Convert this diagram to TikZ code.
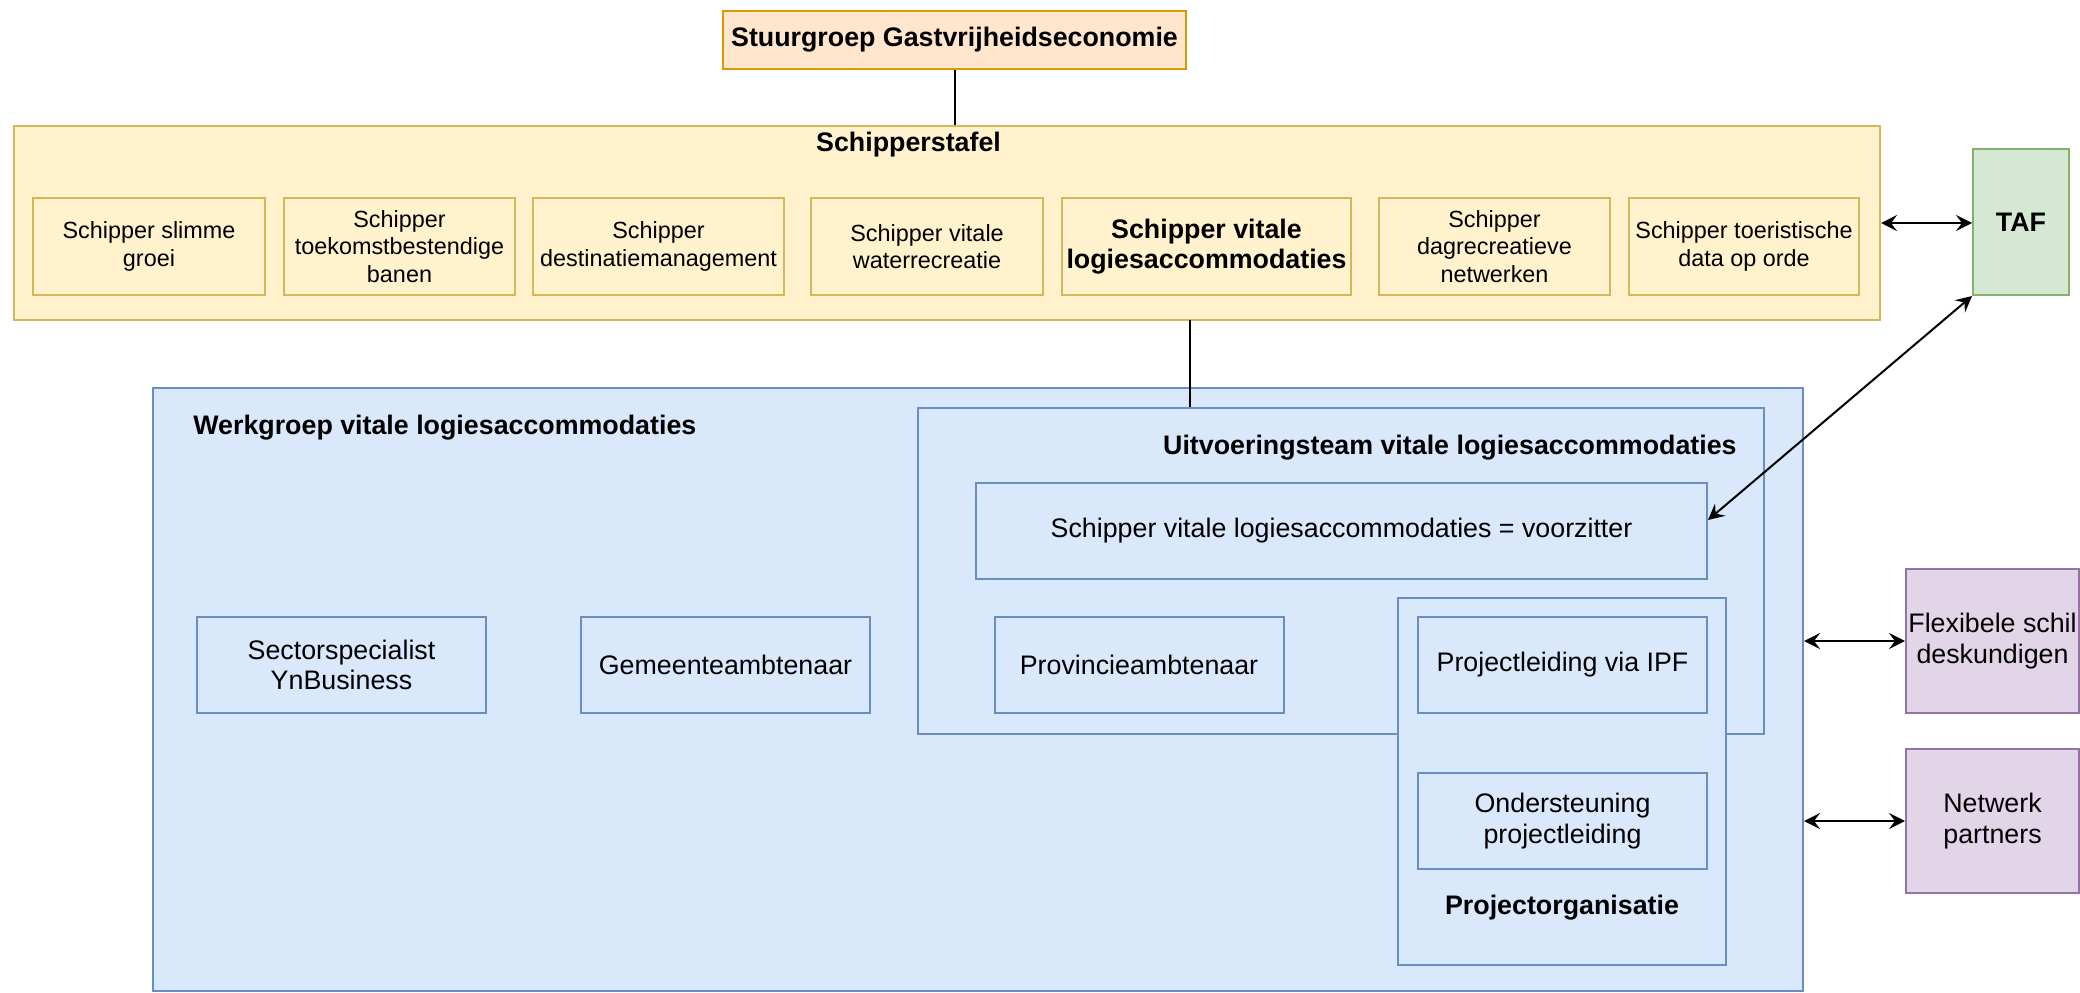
\documentclass[tikz,border=0pt]{standalone}
\usepackage{fontspec}
\setmainfont{Liberation Sans}
\usepackage{xcolor}
\usetikzlibrary{arrows.meta,positioning,calc}
\definecolor{orangefill}{HTML}{FFE6CC}
\definecolor{orangeline}{HTML}{D79B00}
\definecolor{yellowfill}{HTML}{FFF2CC}
\definecolor{yellowline}{HTML}{D6B656}
\definecolor{greenfill}{HTML}{D5E8D4}
\definecolor{greenline}{HTML}{82B366}
\definecolor{bluefill}{HTML}{DAE8FC}
\definecolor{blueline}{HTML}{6C8EBF}
\definecolor{purplefill}{HTML}{E1D5E7}
\definecolor{purpleline}{HTML}{9673A6}
\newcommand{\normtxt}{\fontsize{13.4}{15.2}\selectfont}
\newcommand{\smalltxt}{\fontsize{11.7}{13.8}\selectfont}

\begin{document}
\begin{tikzpicture}[x=0.5pt, y=-0.5pt,
    box/.style={draw, line width=1pt, align=center, inner sep=0pt, font=\normtxt},
    orangebox/.style={box, fill=orangefill, draw=orangeline},
    yellowbox/.style={box, fill=yellowfill, draw=yellowline, minimum height=48.5pt, font=\smalltxt},
    greenbox/.style={box, fill=greenfill, draw=greenline},
    bluebox/.style={box, fill=bluefill, draw=blueline},
    memberbox/.style={bluebox, minimum width=144.5pt, minimum height=48pt},
    purplebox/.style={box, fill=purplefill, draw=purpleline, minimum width=86.5pt, minimum height=72pt},
    grouplbl/.style={font=\normtxt\bfseries, inner sep=0pt},
    biarr/.style={{Stealth[length=8pt,width=8pt,inset=3pt]}-{Stealth[length=8pt,width=8pt,inset=3pt]}, line width=1pt}
  ]
    \useasboundingbox (0,0) rectangle (2080,992);

    \node[orangebox, minimum width=231.5pt, minimum height=29pt, font=\normtxt\bfseries] (stuur) at (954.5,40) {Stuurgroep Gastvrijheidseconomie};

    \node[yellowbox, minimum width=933pt, minimum height=97pt] (tafel) at (947,223) {};
    \node[grouplbl] (tafellbl) at (908.5,145) {Schipperstafel};
    \node[yellowbox, minimum width=116pt]   (s1) at (149,246.5)    {Schipper slimme\\groei};
    \node[yellowbox, minimum width=115.5pt] (s2) at (399.5,246.5)  {Schipper\\toekomstbestendige\\banen};
    \node[yellowbox, minimum width=125.5pt] (s3) at (658.5,246.5)  {Schipper\\destinatiemanagement};
    \node[yellowbox, minimum width=116pt]   (s4) at (927,246.5)    {Schipper vitale\\waterrecreatie};
    \node[yellowbox, minimum width=144.5pt, font=\normtxt\bfseries] (s5) at (1206.5,246.5) {Schipper vitale\\logiesaccommodaties};
    \node[yellowbox, minimum width=115.5pt] (s6) at (1494.5,246.5) {Schipper\\dagrecreatieve\\netwerken};
    \node[yellowbox, minimum width=115pt]   (s7) at (1744,246.5)   {Schipper toeristische\\data op orde};

    \node[greenbox, minimum width=48pt, minimum height=73pt, font=\normtxt\bfseries] (taf) at (2021,222) {TAF};

    \node[bluebox, minimum width=825pt, minimum height=301.5pt] (werk) at (978,689.5) {};
    \node[grouplbl, anchor=west] (werklbl) at (193,428) {Werkgroep vitale logiesaccommodaties};
    \node[bluebox, minimum width=423pt, minimum height=163pt] (uitv) at (1341,571) {};
    \node[grouplbl, anchor=east] (uitvlbl) at (1737,448) {Uitvoeringsteam vitale logiesaccommodaties};
    \node[bluebox, minimum width=365.5pt, minimum height=48pt] (voorz) at (1341.5,531) {Schipper vitale logiesaccommodaties = voorzitter};
    \node[memberbox] (sector) at (341.5,665) {Sectorspecialist\\YnBusiness};
    \node[memberbox] (gemeente) at (725.5,665) {Gemeenteambtenaar};
    \node[memberbox] (prov) at (1139,665) {Provincieambtenaar};
    \node[bluebox, minimum width=164pt, minimum height=183.5pt] (projorg) at (1562,781.5) {};
    \node[memberbox] (ipf) at (1562.5,665) {Projectleiding via IPF};
    \node[memberbox] (onder) at (1562.5,821) {Ondersteuning\\projectleiding};
    \node[grouplbl] (projlbl) at (1562,908) {Projectorganisatie};

    \node[purplebox] (flex) at (1992.5,641) {Flexibele schil\\deskundigen};
    \node[purplebox] (netw) at (1992.5,821) {Netwerk\\partners};

    \coordinate (split) at (1190,320);
    \draw[line width=1pt] (stuur) -- (stuur |- tafel.north);
    \draw[line width=1pt] (split) -- (split |- uitv.north);
    \draw[biarr] (tafel.east) -- (tafel.east -| taf.west);
    \draw[biarr] (taf.south west) -- ([yshift=5.5pt]voorz.east);
    \foreach \t in {flex, netw}
      \draw[biarr] (\t.west -| werk.east) -- (\t.west);
  \end{tikzpicture}
\end{document}
